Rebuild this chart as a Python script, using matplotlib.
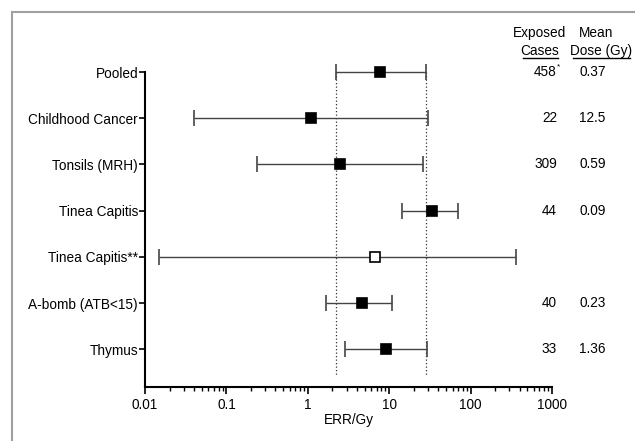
import matplotlib
matplotlib.use("Agg")
import matplotlib.pyplot as plt
import matplotlib.transforms as mtransforms
from matplotlib.lines import Line2D
from matplotlib.patches import Rectangle

plt.rcParams['font.family'] = ['Liberation Sans', 'DejaVu Sans']

studies = ["Pooled", "Childhood Cancer", "Tonsils (MRH)", "Tinea Capitis",
           "Tinea Capitis**", "A-bomb (ATB<15)", "Thymus"]
err = [7.7, 1.1, 2.5, 33.5, 6.7, 4.6, 9.1]
ci_low = [2.2, 0.04, 0.24, 14.2, 0.015, 1.67, 2.86]
ci_high = [28.0, 30.0, 26.0, 70.0, 360.0, 10.7, 29.0]
open_marker = [False, False, False, False, True, False, False]
cases = ["458", "22", "309", "44", "", "40", "33"]
dose = ["0.37", "12.5", "0.59", "0.09", "", "0.23", "1.36"]
ref_lines = [2.2, 28.0]
xticks = [0.01, 0.1, 1, 10, 100, 1000]
xticklabels = ["0.01", "0.1", "1", "10", "100", "1000"]

W, H = 635, 441
FS = 9.8
fig = plt.figure(figsize=(W / 100, H / 100), dpi=100)
fig.patch.set_facecolor('white')

# gray frame
fig.add_artist(Rectangle((12 / W, -0.1), 1.2, 1 - 12 / H + 0.1, transform=fig.transFigure,
                         fill=False, edgecolor='#a0a0a0', lw=1.5))

ax = fig.add_axes([145 / W, 1 - 386.7 / H, (552 - 145) / W, (386.7 - 72) / H])
ypos = list(range(len(studies)))

for x in ref_lines:
    ax.plot([x, x], [0, 6.55], color='#333333', lw=0.9, ls=(0, (1.0, 1.8)), clip_on=False)

for i, y in enumerate(ypos):
    cont = ax.errorbar(err[i], y, xerr=[[err[i] - ci_low[i]], [ci_high[i] - err[i]]],
                       fmt='s', color='#222222', ecolor='#444444', elinewidth=1.0,
                       capsize=5.5, capthick=1.0, markersize=6.5,
                       markerfacecolor='white' if open_marker[i] else 'black',
                       markeredgecolor='black', markeredgewidth=1.2)
    for art in cont.get_children():
        art.set_clip_on(False)

ax.set_xscale('log')
ax.set_xlim(0.01, 1000)
ax.set_ylim(6.81, 0)
ax.set_yticks(ypos)
ax.set_yticklabels(studies, fontsize=FS)
ax.set_xticks(xticks)
ax.set_xticklabels(xticklabels, fontsize=FS)
ax.tick_params(axis='y', length=4, width=1.2, pad=1)
ax.tick_params(axis='x', which='major', length=5, width=1.2, pad=3)
ax.tick_params(axis='x', which='minor', length=3, width=1.0)
for s in ['top', 'right']:
    ax.spines[s].set_visible(False)
ax.spines['left'].set_linewidth(1.5)
ax.spines['bottom'].set_linewidth(1.5)
ax.set_xlabel("ERR/Gy", fontsize=FS, labelpad=1)

tr = mtransforms.blended_transform_factory(fig.transFigure, ax.transData)
for i, y in enumerate(ypos):
    if cases[i]:
        ax.text(557 / W, y, cases[i], transform=tr, ha='right', va='center', fontsize=FS)
    if dose[i]:
        ax.text(579 / W, y, dose[i], transform=tr, ha='left', va='center', fontsize=FS)
ax.text(557.3 / W, -0.19, "*", transform=tr, ha='left', va='top', fontsize=6)

fig.text(539 / W, 1 - 33 / H, "Exposed", ha='center', va='center', fontsize=FS)
fig.text(540 / W, 1 - 51 / H, "Cases", ha='center', va='center', fontsize=FS)
fig.text(596 / W, 1 - 33 / H, "Mean", ha='center', va='center', fontsize=FS)
fig.text(601.5 / W, 1 - 51 / H, "Dose (Gy)", ha='center', va='center', fontsize=FS)
fig.add_artist(Line2D([522.5 / W, 557.5 / W], [1 - 57.5 / H] * 2, color='black', lw=1.0,
                      transform=fig.transFigure))
fig.add_artist(Line2D([572.5 / W, 630 / W], [1 - 57.5 / H] * 2, color='black', lw=1.0,
                      transform=fig.transFigure))

fig.savefig("out.png", dpi=100)
